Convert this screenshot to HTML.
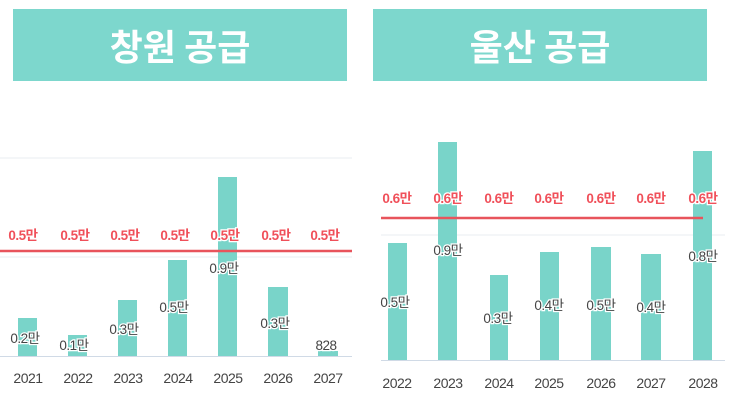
<!DOCTYPE html>
<html><head><meta charset="utf-8"><style>
body{margin:0;width:733px;height:407px;background:#fff;overflow:hidden;font-family:"Liberation Sans","Noto Sans CJK KR",sans-serif;}
.h{position:absolute;top:9px;height:72px;background:#7dd7cd;color:#fff;font-weight:bold;font-size:36px;display:flex;align-items:center;justify-content:center;font-family:"Noto Sans CJK KR",sans-serif;}
</style></head><body>
<div class="h" style="left:13px;width:334px">창원 공급</div>
<div class="h" style="left:373px;width:334px">울산 공급</div>
<svg width="733" height="407" style="position:absolute;left:0;top:0" font-family="Liberation Sans, Noto Sans CJK KR, sans-serif">
<g fill="none" stroke="#e8ecf0" stroke-width="1">
<line x1="0" y1="158" x2="352" y2="158"/><line x1="0" y1="257" x2="352" y2="257"/>
<line x1="381" y1="235" x2="725" y2="235"/>
</g>
<line x1="0" y1="356.5" x2="352" y2="356.5" stroke="#d0dae6"/>
<line x1="381" y1="360.5" x2="725" y2="360.5" stroke="#d0dae6"/>
<g fill="#79d4c9">
<rect x="18" y="318" width="19" height="38"/><rect x="68" y="335" width="19" height="21"/>
<rect x="118" y="300" width="19" height="56"/><rect x="168" y="260" width="19" height="96"/>
<rect x="218" y="177" width="19" height="179"/><rect x="268" y="287" width="20" height="69"/>
<rect x="318" y="351" width="20" height="5"/>
<rect x="388" y="243" width="19" height="117"/><rect x="438" y="142" width="19" height="218"/>
<rect x="490" y="275" width="18" height="85"/><rect x="540" y="252" width="19" height="108"/>
<rect x="591" y="247" width="20" height="113"/><rect x="641" y="254" width="20" height="106"/>
<rect x="693" y="151" width="19" height="209"/>
</g>
<line x1="0" y1="251" x2="352" y2="251" stroke="#e8545c" stroke-width="2.5"/>
<line x1="381" y1="218" x2="703" y2="218" stroke="#e8545c" stroke-width="2.5"/>
<g fill="#f0505a" font-size="13.5" font-weight="bold" text-anchor="middle" letter-spacing="-0.5" stroke="#fff" stroke-width="2.5" paint-order="stroke">
<text x="23" y="240">0.5만</text><text x="75" y="240">0.5만</text><text x="125" y="240">0.5만</text><text x="175" y="240">0.5만</text><text x="225" y="240">0.5만</text><text x="276" y="240">0.5만</text><text x="325" y="240">0.5만</text>
<text x="397" y="203">0.6만</text><text x="448" y="203">0.6만</text><text x="499" y="203">0.6만</text><text x="549" y="203">0.6만</text><text x="601" y="203">0.6만</text><text x="651" y="203">0.6만</text><text x="703" y="203">0.6만</text>
</g>
<g fill="#444" font-size="13.5" text-anchor="middle" letter-spacing="-0.5" stroke="#fff" stroke-width="2.5" paint-order="stroke">
<text x="25" y="343">0.2만</text><text x="74" y="350">0.1만</text><text x="124" y="334">0.3만</text><text x="174" y="312">0.5만</text><text x="224" y="273">0.9만</text><text x="275" y="328">0.3만</text><text x="326" y="350">828</text>
<text x="395" y="307">0.5만</text><text x="448" y="255">0.9만</text><text x="498" y="323">0.3만</text><text x="549" y="310">0.4만</text><text x="601" y="310">0.5만</text><text x="651" y="312">0.4만</text><text x="703" y="261">0.8만</text>
</g>
<g fill="#444" font-size="14" text-anchor="middle" letter-spacing="-0.5">
<text x="28" y="383">2021</text><text x="78" y="383">2022</text><text x="128" y="383">2023</text><text x="178" y="383">2024</text><text x="228" y="383">2025</text><text x="278" y="383">2026</text><text x="328" y="383">2027</text>
<text x="397" y="388">2022</text><text x="448" y="388">2023</text><text x="499" y="388">2024</text><text x="549" y="388">2025</text><text x="601" y="388">2026</text><text x="651" y="388">2027</text><text x="703" y="388">2028</text>
</g>
</svg>
</body></html>
